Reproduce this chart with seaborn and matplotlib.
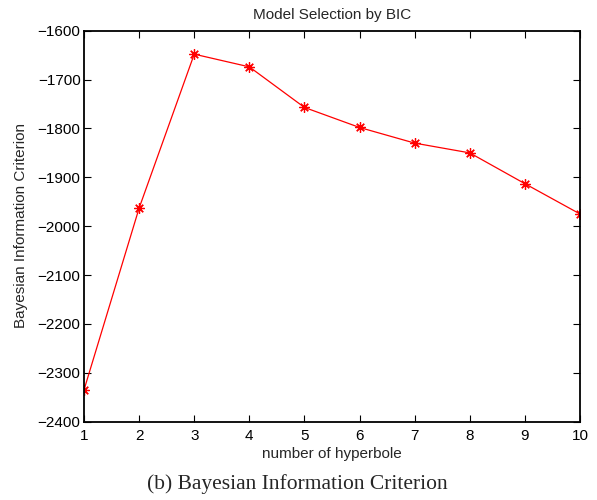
import matplotlib
matplotlib.use("Agg")
import matplotlib.pyplot as plt
import seaborn as sns
import pandas as pd

# BIC score per number of hyperbolas in the model
n_hyperbole = [1, 2, 3, 4, 5, 6, 7, 8, 9, 10]
bic_values = [-2335, -1963, -1648, -1674, -1757, -1798, -1830, -1850, -1913, -1975]
y_ticks = [-2400, -2300, -2200, -2100, -2000, -1900, -1800, -1700, -1600]

sns.set_style("white")
plt.rcParams["font.family"] = ["Liberation Sans", "DejaVu Sans"]
plt.rcParams["xtick.direction"] = "in"
plt.rcParams["ytick.direction"] = "in"

df = pd.DataFrame({"k": n_hyperbole, "bic": bic_values})

fig = plt.figure(figsize=(5.97, 5.00), dpi=100)
left, bottom, right, top = 84 / 597, 1 - 421.7 / 500, 580 / 597, 1 - 30.7 / 500
ax = fig.add_axes([left, bottom, right - left, top - bottom])

# asterisk markers joined by a thin red line
sns.lineplot(data=df, x="k", y="bic", ax=ax, color="red", linewidth=0.9,
             marker=(8, 2, 0), markersize=7.5, markeredgecolor="red",
             markerfacecolor="red", markeredgewidth=0.9)

ax.set_xlim(1, 10)
ax.set_ylim(-2400, -1600)
ax.set_xticks(n_hyperbole)
ax.set_yticks(y_ticks)
ax.set_xticklabels([str(v) for v in n_hyperbole])
ax.set_yticklabels([f"\u2212{abs(v)}" for v in y_ticks])
ax.tick_params(axis="both", which="both", direction="in", length=5, width=0.8,
               labelsize=11, top=True, right=True, bottom=True, left=True,
               colors="black")
ax.tick_params(axis="y", pad=2.5)
ax.tick_params(axis="x", pad=5)
for s in ax.spines.values():
    s.set_visible(True)
    s.set_color("black")
    s.set_linewidth(1.3)

ax.set_xlabel("")
ax.set_ylabel("")
fig.text((left + right) / 2, 1 - 18.5 / 500, "Model Selection by BIC",
         ha="center", va="baseline", fontsize=11)
fig.text((left + right) / 2, 1 - 458 / 500, "number of hyperbole",
         ha="center", va="baseline", fontsize=11)
fig.text(21 / 597, 1 - 225.5 / 500, "Bayesian Information Criterion",
         ha="center", va="center", rotation=90, fontsize=11)

fig.text(297 / 597, 1 - 489.5 / 500, "(b) Bayesian Information Criterion",
         ha="center", va="baseline", fontsize=15.5, family="Liberation Serif")

fig.savefig("out.png", dpi=100)
